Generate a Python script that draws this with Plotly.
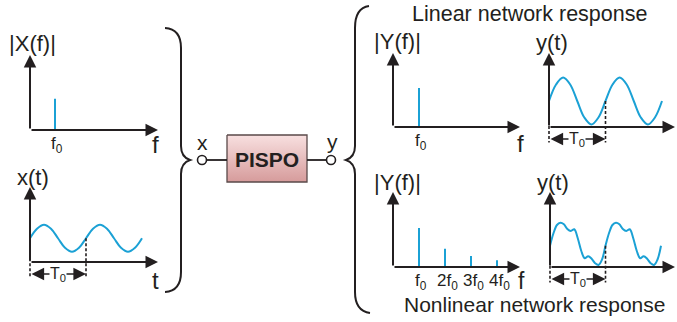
import plotly.graph_objects as go

W, H = 677, 322
BLUE = '#1ba1d5'
INK = '#231f20'
FONT = 'Liberation Sans, Arial, sans-serif'

# ---------------- data ----------------
XF_FREQ = [1]
XF_AMP = [0.8]
YFL_FREQ = [1]
YFL_AMP = [1.0]
YFN_FREQ = [1, 2, 3, 4]
YFN_AMP = [1.0, 0.47, 0.28, 0.17]
FREQ_LABELS = ['f<sub>0</sub>', '2f<sub>0</sub>', '3f<sub>0</sub>', '4f<sub>0</sub>']

T_SINE = [0, 0.125, 0.25, 0.375, 0.5, 0.625, 0.75, 0.875, 1.0,
          1.125, 1.25, 1.375, 1.5, 1.625, 1.75, 1.875, 2.0]
X_T = [0.95, 1.33, 1.49, 1.33, 0.95, 0.57, 0.41, 0.57, 0.95,
       1.33, 1.49, 1.33, 0.95, 0.57, 0.41, 0.57, 0.95]
Y_LIN = [1.04, 1.70, 1.98, 1.70, 1.04, 0.38, 0.10, 0.38, 1.04,
         1.70, 1.98, 1.70, 1.04, 0.38, 0.10, 0.38, 1.04]
T_NL = [0, 0.0625, 0.125, 0.1875, 0.25, 0.3125, 0.375, 0.4375, 0.5,
        0.5625, 0.625, 0.6875, 0.75, 0.8125, 0.875, 0.9375,
        1.0, 1.0625, 1.125, 1.1875, 1.25, 1.3125, 1.375, 1.4375, 1.5,
        1.5625, 1.625, 1.6875, 1.75, 1.8125, 1.875, 1.9375, 2.0]
Y_NL = [0.85, 1.35, 1.68, 1.77, 1.71, 1.52, 1.44, 1.51, 1.15,
        0.65, 0.35, 0.43, 0.33, 0.15, 0.08, 0.30,
        0.85, 1.35, 1.68, 1.77, 1.71, 1.52, 1.44, 1.51, 1.15,
        0.65, 0.35, 0.43, 0.33, 0.15, 0.08, 0.30, 0.85]
PERIOD_MARKS = [0, 1]

# ---------------- panels ----------------
panels = [
    dict(kind='f', o=(30, 130), tip=(158, 55), sx=25, sy=39, fx=XF_FREQ, amp=XF_AMP),
    dict(kind='t', o=(30, 262), tip=(158, 187), sx=56, sy=25, t=T_SINE, v=X_T),
    dict(kind='f', o=(393, 127), tip=(520, 53), sx=26, sy=39, fx=YFL_FREQ, amp=YFL_AMP),
    dict(kind='t', o=(549, 127), tip=(675, 53), sx=56.5, sy=25, t=T_SINE, v=Y_LIN),
    dict(kind='f', o=(393, 267), tip=(520, 192), sx=26, sy=39, fx=YFN_FREQ, amp=YFN_AMP),
    dict(kind='t', o=(550, 267), tip=(675, 192), sx=55.5, sy=25, t=T_NL, v=Y_NL),
]

fig = go.Figure()
layout = dict(width=W, height=H, margin=dict(l=0, r=0, t=0, b=0),
              paper_bgcolor='white', plot_bgcolor='rgba(0,0,0,0)',
              showlegend=False, font=dict(family=FONT, color=INK))
annotations = []
PADL, PADB = 10, 30

for i, p in enumerate(panels, start=1):
    xo, yo = p['o']
    xt, yt = p['tip']
    sx, sy = p['sx'], p['sy']
    xmax = (xt - xo) / sx
    ymax = (yo - yt) / sy
    xa, ya = f'x{i}', f'y{i}'
    layout[f'xaxis{i}'] = dict(domain=[(xo - PADL) / W, xt / W], range=[-PADL / sx, xmax],
                               visible=False, fixedrange=True, anchor=ya)
    layout[f'yaxis{i}'] = dict(domain=[1 - (yo + PADB) / H, 1 - yt / H], range=[-PADB / sy, ymax],
                               visible=False, fixedrange=True, anchor=xa)
    if p['kind'] == 'f':
        xs, ys = [], []
        for f, a in zip(p['fx'], p['amp']):
            xs += [f, f, None]
            ys += [0, a, None]
        fig.add_trace(go.Scatter(x=xs, y=ys, mode='lines', xaxis=xa, yaxis=ya,
                                 line=dict(color=BLUE, width=2), cliponaxis=False,
                                 hoverinfo='skip'))
        for f in p['fx']:
            annotations.append(dict(xref=xa, yref=ya, x=f, y=0, text=FREQ_LABELS[f - 1],
                                    showarrow=False, yanchor='top', yshift=-2, xshift=2,
                                    font=dict(size=17, color=INK)))
    else:
        fig.add_trace(go.Scatter(x=p['t'], y=p['v'], mode='lines', xaxis=xa, yaxis=ya,
                                 line=dict(color=BLUE, width=2, shape='spline', smoothing=1.0),
                                 cliponaxis=False, hoverinfo='skip'))
        arrow_y = -0.48
        for tm in PERIOD_MARKS:
            v0 = p['v'][p['t'].index(tm)]
            fig.add_trace(go.Scatter(x=[tm, tm], y=[v0, -0.62], mode='lines', xaxis=xa, yaxis=ya,
                                     line=dict(color=INK, width=1.6, dash='3px,2px'),
                                     cliponaxis=False, hoverinfo='skip'))
        annotations.append(dict(xref=xa, yref=ya, axref=xa, ayref=ya,
                                x=PERIOD_MARKS[1], y=arrow_y, ax=PERIOD_MARKS[0], ay=arrow_y,
                                text='', showarrow=True, arrowside='end+start',
                                arrowhead=2, startarrowhead=2, arrowsize=1.8, startarrowsize=1.8,
                                arrowwidth=1.4, arrowcolor=INK))
        annotations.append(dict(xref=xa, yref=ya, x=0.5, y=arrow_y, text='T<sub>0</sub>',
                                showarrow=False, bgcolor='white', borderpad=0,
                                font=dict(size=16, color=INK)))
    # axis arrows
    annotations.append(dict(xref=xa, yref=ya, axref=xa, ayref=ya, x=xmax, y=0, ax=0, ay=0,
                            text='', showarrow=True, arrowhead=2, arrowsize=1.25, arrowwidth=2,
                            arrowcolor=INK))
    annotations.append(dict(xref=xa, yref=ya, axref=xa, ayref=ya, x=0, y=ymax, ax=0, ay=0,
                            text='', showarrow=True, arrowhead=2, arrowsize=1.25, arrowwidth=2,
                            arrowcolor=INK))

# ---------------- overlay (diagram) axis in pixel units ----------------
layout['xaxis7'] = dict(domain=[0, 1], range=[0, W], visible=False, fixedrange=True, anchor='y7')
layout['yaxis7'] = dict(domain=[0, 1], range=[H, 0], visible=False, fixedrange=True, anchor='x7')

fig.add_trace(go.Scatter(x=[227, 307, 307, 227, 227], y=[135, 135, 182, 182, 135], mode='lines',
                         fill='toself', xaxis='x7', yaxis='y7',
                         fillgradient=dict(type='vertical',
                                           colorscale=[[0, '#d69b9b'], [1, '#f8e0e0']]),
                         line=dict(color='#5a4a4a', width=1.3), hoverinfo='skip'))
fig.add_trace(go.Scatter(x=[206, 227, None, 307, 327], y=[160, 160, None, 160, 160], mode='lines',
                         xaxis='x7', yaxis='y7', line=dict(color=INK, width=1.8), hoverinfo='skip'))
fig.add_trace(go.Scatter(x=[202, 331], y=[160, 160], mode='markers', xaxis='x7', yaxis='y7',
                         marker=dict(size=9, color='white', line=dict(color=INK, width=1.6)),
                         hoverinfo='skip'))

shapes = [
    dict(type='path', xref='x7', yref='y7', line=dict(color=INK, width=2),
         path='M 165,28 Q 181,29 181,48 L 181,146 Q 181,157 190,160 Q 181,163 181,174 L 181,272 Q 181,291 165,292'),
    dict(type='path', xref='x7', yref='y7', line=dict(color=INK, width=2),
         path='M 369,6 Q 355,8 355,28 L 355,146 Q 355,157 346,160 Q 355,163 355,174 L 355,292 Q 355,311 370,313'),
]

def txt(x, y, s, size, **kw):
    d = dict(xref='x7', yref='y7', x=x, y=y, text=s, showarrow=False,
             font=dict(size=size, color=INK, family=FONT))
    d.update(kw)
    annotations.append(d)

txt(267, 159, '<b>PISPO</b>', 21)
txt(202, 142, 'x', 21)
txt(332, 141, 'y', 21)
txt(529, 14, 'Linear network response', 21.5)
txt(534, 304, 'Nonlinear network response', 21)
txt(32, 43, '|X(f)|', 22)
txt(33, 177, 'x(t)', 22)
txt(397, 41, '|Y(f)|', 22)
txt(552, 42, 'y(t)', 22)
txt(397, 182, '|Y(f)|', 22)
txt(553, 182, 'y(t)', 22)
txt(155, 144, 'f', 24)
txt(520, 143, 'f', 24)
txt(521, 281, 'f', 23)
txt(155, 280, 't', 24)
txt(681, 143, 't', 24)
txt(681, 283, 't', 23)

layout['annotations'] = annotations
layout['shapes'] = shapes
fig.update_layout(**layout)
fig.write_html('out.html', config={'displayModeBar': False},
               post_script="document.body.style.margin='0';document.body.style.overflow='hidden';")
